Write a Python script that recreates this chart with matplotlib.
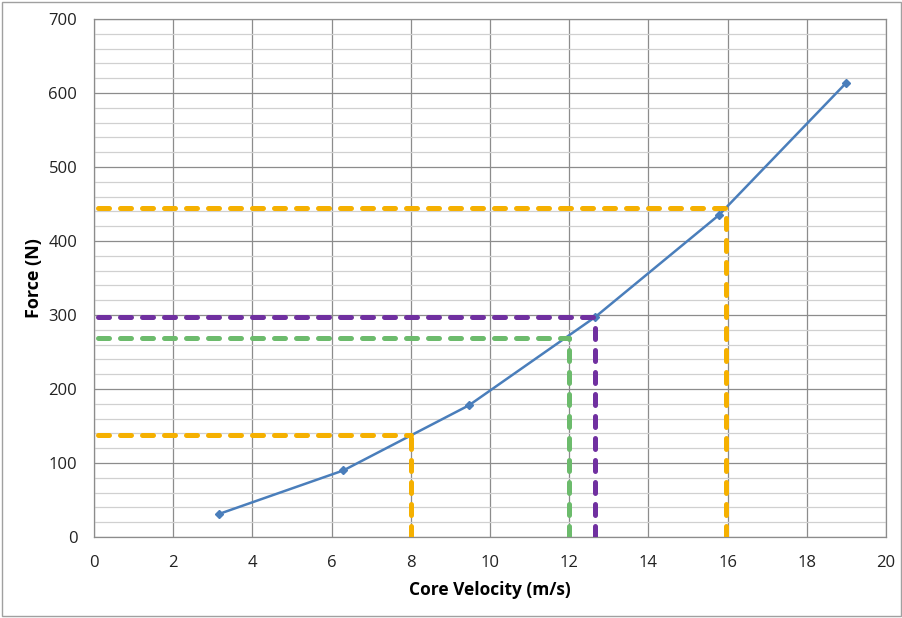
import matplotlib
matplotlib.use("Agg")
import matplotlib.pyplot as plt
from matplotlib.patches import Rectangle
import numpy as np

# Data
velocity = [3.15, 6.3, 9.47, 12.65, 15.78, 19.0]
force = [31, 90, 178, 297, 435, 614]

# Reference (dashed) lines: (x value, force value, colour)
ref_x = [8.0, 12.0, 12.65, 15.95]
ref_y = [138, 269, 297, 445]
ref_colors = ["#F5B000", "#6CBB6C", "#7030A0", "#F5B000"]

x_ticks = list(range(0, 21, 2))
y_ticks = list(range(0, 701, 100))

plt.rcParams['font.family'] = ['Open Sans', 'DejaVu Sans']

fig = plt.figure(figsize=(9.03, 6.18), dpi=100)
ax = fig.add_axes([94/903, 81/618, 792/903, 518/618])

# Figure border
fig.patches.append(Rectangle((0.002, 0.003), 0.996, 0.994, transform=fig.transFigure,
                             fill=False, edgecolor="#A0A0A0", lw=1.0))

ax.set_xlim(0, 20)
ax.set_ylim(0, 700)
ax.set_xticks(x_ticks)
ax.set_yticks(y_ticks)
ax.set_yticks(np.arange(0, 701, 20), minor=True)
ax.grid(which='major', color="#8C8C8C", lw=0.9)
ax.grid(which='minor', axis='y', color="#D0D0D0", lw=0.9)
ax.tick_params(which='both', length=0)
ax.tick_params(axis='both', labelsize=12, colors="#222222")
ax.tick_params(axis='x', pad=13)
ax.tick_params(axis='y', pad=12)
ax.set_axisbelow(True)
for s in ax.spines.values():
    s.set_color("#8C8C8C")
    s.set_linewidth(0.9)

ax.plot(velocity, force, color="#4A7EBB", lw=1.8, marker='D', markersize=4.5,
        zorder=3)

dash = (2.2, 2.2)
for xv, yv, c in zip(ref_x, ref_y, ref_colors):
    ax.plot([0.1, xv], [yv, yv], color=c, lw=3.6, dashes=dash,
            dash_capstyle='round', zorder=4)
    ax.plot([xv, xv], [0, yv], color=c, lw=3.6, dashes=dash,
            dash_capstyle='round', zorder=4)

ax.set_xlabel("Core Velocity (m/s)", fontsize=12.5, fontweight='bold', labelpad=7)
ax.set_ylabel("Force (N)", fontsize=13, fontweight='bold', labelpad=4)

fig.savefig("out.png", dpi=100)
